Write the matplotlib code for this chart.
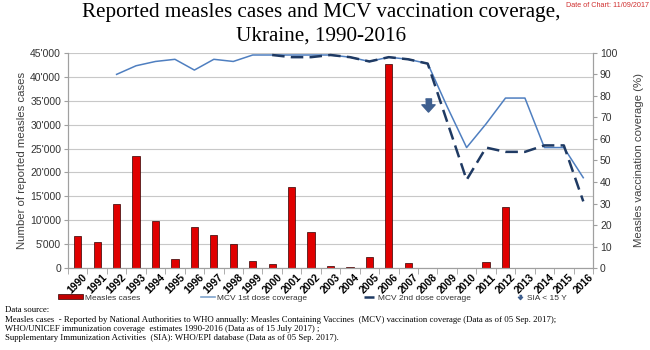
import matplotlib
matplotlib.use("Agg")
import matplotlib.pyplot as plt
from matplotlib.ticker import FuncFormatter, MultipleLocator, FixedLocator
from matplotlib.lines import Line2D
from matplotlib.patches import Patch

years = list(range(1990, 2017))
cases = [6800, 5400, 13300, 23500, 9800, 2000, 8600, 7000, 5100, 1400,
         850, 17000, 7600, 400, 150, 2400, 42700, 1000, 100, 0,
         100, 1300, 12750, 0, 0, 100, 100]
mcv1_years = list(range(1992, 2017))
mcv1 = [90, 94, 96, 97, 92, 97, 96, 99, 99, 99, 99, 99, 98, 96, 98, 97, 95,
        75, 56, 67, 79, 79, 56, 56, 42]
mcv2_years = list(range(2000, 2017))
mcv2 = [99, 98, 98, 99, 98, 96, 98, 97, 95, 68, 41, 56, 54, 54, 57, 57, 31]
sia_years = [2008]

title = "Reported measles cases and MCV vaccination coverage,\nUkraine, 1990-2016"
sources = [
    "Data source:",
    "Measles cases  - Reported by National Authorities to WHO annually: Measles Containing Vaccines  (MCV) vaccination coverage (Data as of 05 Sep. 2017);",
    "WHO/UNICEF immunization coverage  estimates 1990-2016 (Data as of 15 July 2017) ;",
    "Supplementary Immunization Activities  (SIA): WHO/EPI database (Data as of 05 Sep. 2017).",
]

plt.rcParams['font.family'] = ['Liberation Sans', 'DejaVu Sans']

fig = plt.figure(figsize=(6.5, 3.5), dpi=100)
ax = fig.add_axes([0.1046, 0.234, 0.8077, 0.615])
ax2 = ax.twinx()

grey = "#a0a0a0"
ax.set_axisbelow(True)
ax.bar(years, cases, width=0.37, color="#e00000", edgecolor="#300000", linewidth=0.5, zorder=2)
ax.set_ylim(0, 45000)
ax.set_xlim(1989.5, 2016.5)
ax.yaxis.set_major_locator(MultipleLocator(5000))
ax.yaxis.set_major_formatter(FuncFormatter(lambda v, p: f"{int(v):,}".replace(",", "'")))
ax.grid(axis="y", color="#c8c8c8", linewidth=0.8)
ax.set_ylabel("Number of reported measles cases", fontsize=8.2, color="#404040", labelpad=2)

ax.set_xticks(years)
ax.set_xticklabels([str(y) for y in years], rotation=45, fontsize=7.5, fontweight="bold",
                   ha="center", va="top")
ax.tick_params(axis="x", length=0, pad=3)
ax.xaxis.set_minor_locator(FixedLocator([y + 0.5 for y in range(1989, 2017)]))
ax.tick_params(axis="x", which="minor", length=4, color=grey)
ax.tick_params(axis="y", labelsize=7.5, length=3, color=grey, labelcolor="#333333", pad=2)

ax2.plot(mcv1_years, mcv1, color="#4f7fc0", linewidth=1.1, zorder=3)
ax2.plot(mcv2_years, mcv2, color="#1f3a63", linewidth=1.8, dashes=(5, 2.5), zorder=3)
arrow = [(-0.45, 1), (0.45, 1), (0.45, 0.1), (1, 0.1), (0, -1), (-1, 0.1), (-0.45, 0.1)]
ax2.scatter(sia_years, [76] * len(sia_years), marker=arrow, s=90, color="#3f5f8f", zorder=4)
ax2.set_ylim(0, 100)
ax2.yaxis.set_major_locator(MultipleLocator(10))
ax2.tick_params(axis="y", labelsize=7.5, length=3, color=grey, labelcolor="#333333", pad=2)
ax2.set_ylabel("Measles vaccination coverage (%)", fontsize=8.2, color="#404040", labelpad=12)

for a in (ax, ax2):
    a.spines["top"].set_visible(False)
    for s in ("left", "right", "bottom"):
        a.spines[s].set_color(grey)
        a.spines[s].set_linewidth(0.8)

fig.text(0.494, 0.99, title, ha="center", va="top", fontsize=15.2,
         family="Liberation Serif", linespacing=1.3)
fig.text(0.998, 0.993, "Date of Chart: 11/09/2017", ha="right", va="top",
         fontsize=5.2, color="#d03030")

# legend entries placed one by one, as in the reference
entries = [
    (Patch(facecolor="#c00000", edgecolor="#300000", linewidth=0.5), "Measles cases", 3.0, 58),
    (Line2D([], [], color="#7fa3cc", linewidth=1.2), "MCV 1st dose coverage", 1.7, 201),
    (Line2D([], [], color="#1f3a63", linewidth=1.8, dashes=(4, 1.5)), "MCV 2nd dose coverage", 1.4, 364),
    (Line2D([], [], linestyle="none", marker=arrow, markersize=3, color="#3f5f8f"), "SIA < 15 Y", 1.2, 515),
]
for h, lab, hl, x in entries:
    fig.legend([h], [lab], loc="center left", bbox_to_anchor=(x / 650, 0.149), frameon=False,
               fontsize=6, handlelength=hl, handleheight=0.55, handletextpad=0.25,
               borderpad=0, borderaxespad=0, labelcolor="#333333")

ys = [0.113, 0.087, 0.060, 0.034]
for y, line in zip(ys, sources):
    fig.text(0.008, y, line, ha="left", va="center", fontsize=6.3, family="Liberation Serif")

fig.savefig("out.png", dpi=100)
